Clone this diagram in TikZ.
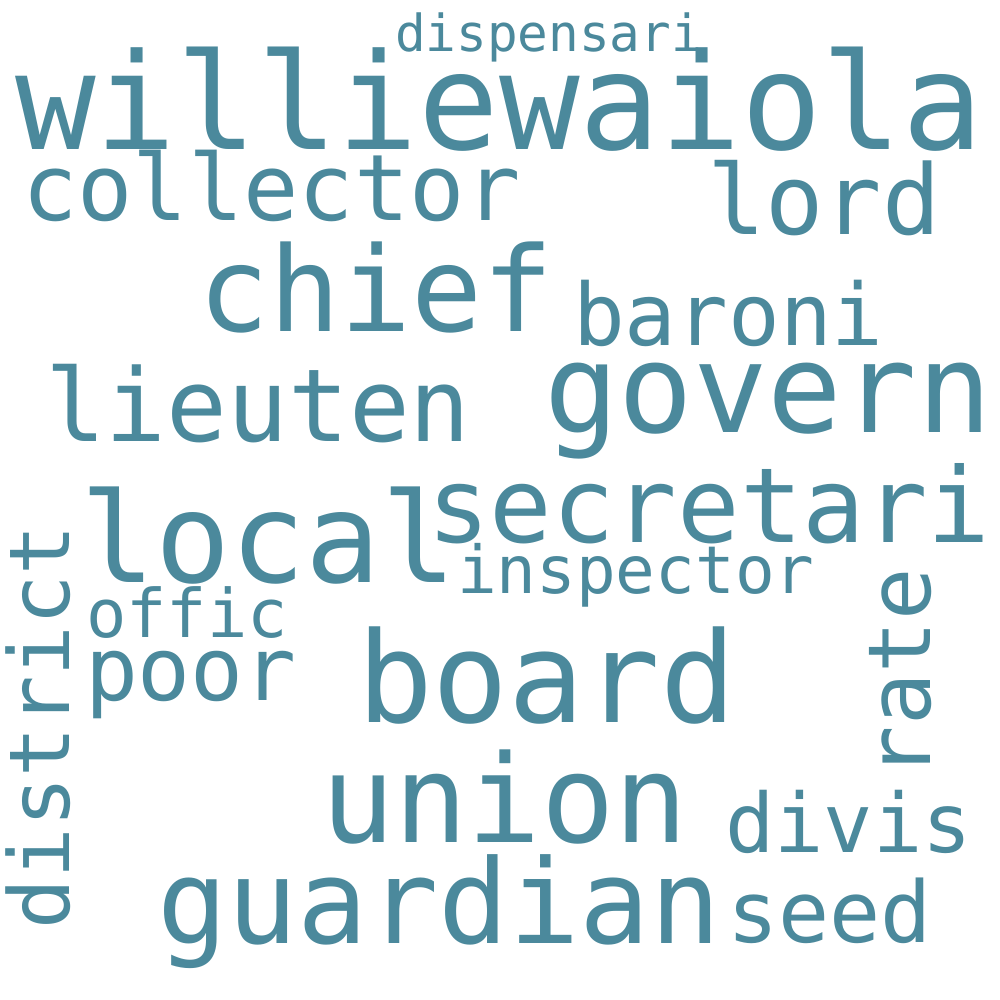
\documentclass[tikz,border=0pt]{standalone}
\usepackage{fontspec}
\setmonofont{DejaVu Sans Mono}
\definecolor{wordteal}{RGB}{75,137,156}
\tikzset{
	word/.style = {anchor = base west, inner sep = 0pt, outer sep = 0pt, text = wordteal, font = \ttfamily\fontsize{#1}{#1}\selectfont},
}
\begin{document}
\begin{tikzpicture}[x = 1pt, y = -1pt]
		\useasboundingbox[fill = white] (0, 0) rectangle (1000, 1000);
		\foreach \w/\s/\x/\y in {williewaiola/134/15/150, dispensari/51/395/52, collector/92/22/221,
				lord/97/707/235, chief/118/198/331, baroni/86/573/345, govern/124/544/432,
				lieuten/101/45/441, local/125/80/582, secretari/104/427/542, inspector/66/457/593,
				offic/67/86/637, poor/88/85/700, board/126/357/722, union/122/321/842,
				divis/82/725/852, guardian/117/157/943, seed/85/727/942}
			\node[word = \s] (\w) at (\x, \y) {\w};
		% vertical words
		\node[word = 84, rotate = 90] (district) at (69, 929) {district};
		\node[word = 87, rotate = 90] (rate) at (930, 778) {rate};
	\end{tikzpicture}
\end{document}
